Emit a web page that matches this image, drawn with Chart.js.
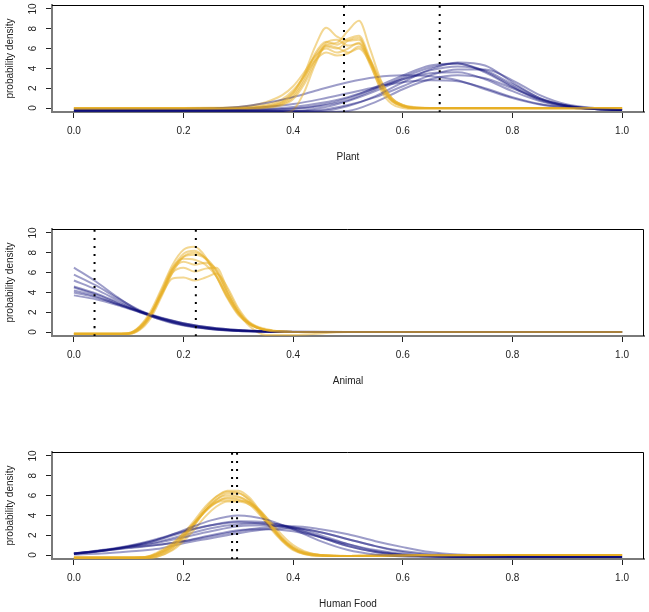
<!DOCTYPE html>
<html>
<head>
<meta charset="utf-8">
<title>Diet density curves</title>
<script src="https://cdn.jsdelivr.net/npm/chart.js@4"></script>
<style>
  body { margin: 0; background: #fff; }
  #wrap { position: relative; width: 649px; height: 612px; }
  canvas { position: absolute; left: 0; }
</style>
</head>
<body>
<div id="wrap">
  <canvas id="plant" width="649" height="170" style="top:0px"></canvas>
  <canvas id="animal" width="649" height="170" style="top:224px"></canvas>
  <canvas id="human" width="649" height="170" style="top:447px"></canvas>
</div>
<script>
const xTicks = [0, 0.2, 0.4, 0.6, 0.8, 1.0]
const yTicks = [0, 2, 4, 6, 8, 10]
const yTitle = 'probability density'

// Plant
const plantLines = [0.4927, 0.6673]
const plantYellowX = [0, 0.1, 0.2, 0.25, 0.3, 0.35, 0.38, 0.4, 0.42, 0.44, 0.46, 0.48, 0.5, 0.52, 0.54, 0.56, 0.58, 0.6, 0.62, 0.65, 0.7, 0.8, 0.9, 1.0]
const plantYellow = [
  [-0.05, -0.05, -0.05, -0.05, 0, 0.15, 0.6, 1.5, 3.4, 6.2, 8.1, 7.2, 6.8, 6.9, 4.8, 2.2, 0.7, 0.15, 0, 0, 0, 0, 0, 0],
  [-0.1, -0.1, -0.1, -0.1, -0.1, 0, 0.3, 0.9, 2.4, 4.6, 6.4, 6.6, 7.8, 8.8, 6.0, 2.8, 1.0, 0.3, 0.05, 0, 0, 0, 0, 0],
  [-0.6, -0.6, -0.6, -0.6, -0.6, -0.6, -0.5, -0.2, 1.6, 4.4, 6.2, 6.0, 6.8, 7.1, 4.6, 1.8, 0.4, 0, -0.1, -0.1, -0.1, -0.1, -0.1, -0.1],
  [0, 0, 0, 0.02, 0.1, 0.6, 1.3, 2.2, 3.6, 5.2, 6.0, 5.6, 6.0, 6.6, 4.8, 2.4, 0.9, 0.3, 0.1, 0, 0, 0, 0, 0],
  [0, 0, 0, 0, 0.05, 0.35, 0.9, 1.8, 3.2, 4.8, 5.6, 5.3, 5.5, 6.2, 4.9, 2.7, 1.0, 0.3, 0.05, 0, 0, 0, 0, 0],
  [-0.05, -0.05, -0.05, -0.05, -0.05, 0.1, 0.5, 1.3, 3.0, 5.5, 6.7, 6.4, 7.0, 7.3, 5.0, 2.3, 0.8, 0.2, 0, 0, 0, 0, 0, 0],
  [-0.05, -0.05, -0.05, -0.05, -0.05, 0.1, 0.4, 1.1, 2.7, 4.9, 6.3, 6.1, 5.6, 6.0, 4.6, 2.3, 0.8, 0.2, 0, 0, 0, 0, 0, 0],
  [0, 0, 0, 0, 0, 0.2, 0.7, 1.6, 3.3, 5.3, 6.6, 6.9, 6.3, 6.5, 4.4, 2.0, 0.7, 0.2, 0, 0, 0, 0, 0, 0]
]
const plantBlueX = [0, 0.2, 0.3, 0.35, 0.4, 0.45, 0.5, 0.55, 0.6, 0.65, 0.7, 0.75, 0.8, 0.85, 0.9, 0.95, 1.0]
const plantBlue = [
  [-0.2, -0.2, -0.2, -0.15, -0.05, 0.3, 1.0, 2.1, 3.3, 4.3, 4.5, 3.6, 2.1, 0.8, 0.15, -0.1, -0.2],
  [-0.3, -0.3, -0.3, -0.3, -0.3, -0.3, 0.2, 1.2, 2.6, 3.9, 4.6, 4.3, 2.6, 1.0, 0.2, -0.1, -0.2],
  [-0.1, -0.1, 0.1, 0.5, 1.1, 1.9, 2.6, 3.1, 3.3, 3.2, 2.8, 1.9, 1.0, 0.35, 0.05, -0.1, -0.2],
  [-0.2, -0.2, -0.1, 0.1, 0.4, 0.9, 1.5, 2.1, 2.6, 2.8, 2.7, 2.0, 1.1, 0.4, 0.05, -0.1, -0.2],
  [-0.3, -0.3, -0.3, -0.3, -0.3, 0.0, 0.7, 1.7, 2.9, 3.8, 4.2, 3.8, 2.4, 1.0, 0.25, -0.1, -0.2],
  [-0.2, -0.2, -0.2, -0.1, 0.1, 0.5, 1.1, 2.0, 2.9, 3.5, 3.6, 2.9, 1.7, 0.7, 0.15, -0.1, -0.2],
  [-0.2, -0.2, -0.2, -0.2, -0.1, 0.2, 0.8, 1.9, 3.1, 4.1, 4.5, 3.7, 2.2, 0.9, 0.2, -0.1, -0.2],
  [-0.4, -0.4, -0.4, -0.4, -0.4, -0.4, -0.3, 0.6, 1.9, 2.9, 3.3, 3.0, 2.0, 0.9, 0.25, -0.05, -0.2],
  [-0.3, -0.3, -0.3, -0.3, -0.3, -0.2, 0.3, 1.1, 2.2, 3.3, 3.9, 3.9, 2.8, 1.3, 0.35, 0, -0.2]
]

// Animal
const animalLines = [0.0376, 0.2224]
const animalYellowX = [0, 0.05, 0.08, 0.1, 0.12, 0.14, 0.16, 0.18, 0.2, 0.22, 0.24, 0.26, 0.28, 0.3, 0.32, 0.35, 0.4, 0.5, 0.6, 0.8, 1.0]
const animalYellow = [
  [-0.15, -0.15, -0.15, -0.1, 0.6, 2.1, 4.4, 6.8, 8.3, 8.6, 7.6, 5.6, 3.4, 1.7, 0.8, 0.2, 0, 0, 0, 0, 0],
  [-0.15, -0.15, -0.15, -0.15, 0.4, 1.8, 4.0, 6.4, 7.9, 8.2, 7.4, 5.6, 3.5, 1.8, 0.8, 0.2, 0, 0, 0, 0, 0],
  [-0.2, -0.2, -0.2, -0.15, 0.3, 1.6, 3.8, 6.2, 7.6, 7.8, 7.4, 6.0, 3.8, 2.0, 0.9, 0.2, 0, 0, 0, 0, 0],
  [-0.2, -0.2, -0.2, -0.15, 0.4, 1.8, 4.0, 6.3, 7.1, 6.8, 7.0, 6.3, 4.0, 2.0, 0.9, 0.2, 0, 0, 0, 0, 0],
  [-0.2, -0.2, -0.2, -0.2, 0.3, 1.7, 3.9, 6.0, 6.5, 6.1, 6.4, 6.5, 4.3, 2.2, 0.9, 0.2, 0, 0, 0, 0, 0],
  [-0.15, -0.15, -0.15, -0.1, 0.5, 1.8, 3.8, 5.4, 5.5, 5.2, 5.5, 5.9, 4.5, 2.4, 1.0, 0.3, 0, 0, 0, 0, 0],
  [-0.2, -0.2, -0.2, -0.15, 0.5, 1.9, 4.2, 6.5, 7.4, 7.3, 6.8, 5.6, 3.6, 1.9, 0.8, 0.2, 0, 0, 0, 0, 0],
  [-0.2, -0.2, -0.2, -0.2, 0.2, 1.4, 3.6, 6.0, 7.6, 8.0, 7.5, 6.2, 4.0, 2.0, 0.6, -0.3, -0.3, 0, 0, 0, 0]
]
const animalBlueX = [0, 0.04, 0.08, 0.12, 0.16, 0.2, 0.25, 0.3, 0.35, 0.4, 0.5, 0.6, 0.8, 1.0]
const animalBlue = [
  [6.5, 5.1, 3.5, 2.1, 1.2, 0.65, 0.28, 0.1, 0.03, 0, 0, 0, 0, 0],
  [5.8, 4.7, 3.4, 2.2, 1.3, 0.7, 0.3, 0.12, 0.04, 0, 0, 0, 0, 0],
  [5.2, 4.3, 3.2, 2.1, 1.3, 0.75, 0.35, 0.15, 0.05, 0.01, 0, 0, 0, 0],
  [4.6, 3.9, 3.0, 2.1, 1.35, 0.8, 0.35, 0.15, 0.05, 0.01, 0, 0, 0, 0],
  [4.5, 3.8, 2.9, 2.0, 1.25, 0.7, 0.3, 0.1, 0.03, 0, 0, 0, 0, 0],
  [4.2, 3.6, 2.8, 2.05, 1.4, 0.85, 0.4, 0.15, 0.05, 0.01, 0, 0, 0, 0],
  [4.0, 3.5, 2.8, 2.1, 1.45, 0.9, 0.45, 0.2, 0.07, 0.02, 0, 0, 0, 0],
  [3.7, 3.3, 2.7, 2.0, 1.4, 0.9, 0.45, 0.2, 0.08, 0.02, 0, 0, 0, 0]
]

// Human Food
const humanLines = [0.2885, 0.2976]
const humanYellowX = [0, 0.05, 0.1, 0.13, 0.15, 0.18, 0.2, 0.22, 0.24, 0.26, 0.28, 0.3, 0.32, 0.34, 0.36, 0.38, 0.4, 0.42, 0.45, 0.5, 0.6, 0.8, 1.0]
const humanYellow = [
  [-0.25, -0.25, -0.25, -0.2, 0.1, 1.0, 2.0, 3.3, 4.7, 5.9, 6.5, 6.5, 5.8, 4.4, 2.9, 1.6, 0.7, 0.2, -0.05, -0.1, -0.05, 0, 0],
  [-0.25, -0.25, -0.25, -0.25, 0, 0.8, 1.8, 3.1, 4.5, 5.6, 6.2, 6.2, 5.6, 4.3, 2.9, 1.6, 0.7, 0.2, 0, -0.1, -0.05, 0, 0],
  [-0.25, -0.25, -0.25, -0.2, 0.2, 1.2, 2.2, 3.3, 4.4, 5.3, 5.8, 5.8, 5.3, 4.3, 3.0, 1.7, 0.8, 0.3, 0, -0.1, -0.05, 0, 0],
  [-0.25, -0.25, -0.25, -0.25, -0.1, 0.8, 1.9, 3.2, 4.5, 5.3, 5.5, 5.5, 5.3, 4.5, 3.1, 1.7, 0.7, 0.2, 0, -0.1, -0.05, 0, 0],
  [-0.3, -0.3, -0.3, -0.3, -0.2, 0.6, 1.6, 3.0, 4.5, 5.6, 6.0, 5.9, 5.3, 4.2, 2.8, 1.5, 0.6, 0.1, -0.1, -0.1, -0.05, 0, 0],
  [-0.3, -0.3, -0.3, -0.3, -0.2, 0.5, 1.4, 2.6, 3.9, 4.9, 5.4, 5.4, 5.1, 4.4, 3.3, 2.0, 1.0, 0.4, 0, -0.1, -0.05, 0, 0],
  [-0.25, -0.25, -0.25, -0.2, 0.1, 1.1, 2.2, 3.5, 4.9, 5.9, 6.4, 6.3, 5.5, 4.1, 2.6, 1.4, 0.5, 0.1, -0.1, -0.1, -0.05, 0, 0],
  [-0.3, -0.3, -0.3, -0.25, 0, 0.9, 1.9, 3.2, 4.5, 5.4, 5.7, 5.6, 5.1, 4.0, 2.7, 1.5, 0.6, 0.15, -0.05, -0.1, -0.05, 0, 0]
]
const humanBlueX = [0, 0.05, 0.1, 0.15, 0.2, 0.25, 0.3, 0.35, 0.4, 0.45, 0.5, 0.55, 0.6, 0.65, 0.7, 0.8, 0.9, 1.0]
const humanBlue = [
  [0.15, 0.45, 0.85, 1.5, 2.5, 3.5, 4.0, 3.6, 2.6, 1.4, 0.5, 0.05, -0.15, -0.2, -0.2, -0.2, -0.2, -0.2],
  [0.15, 0.5, 0.95, 1.6, 2.4, 3.0, 3.3, 3.1, 2.6, 1.8, 0.9, 0.3, 0, -0.15, -0.2, -0.2, -0.2, -0.2],
  [0.1, 0.4, 0.8, 1.2, 1.8, 2.4, 2.9, 3.0, 2.8, 2.3, 1.6, 0.9, 0.4, 0.1, -0.05, -0.15, -0.2, -0.2],
  [0.15, 0.4, 0.75, 1.0, 1.4, 1.9, 2.4, 2.8, 2.9, 2.6, 2.1, 1.4, 0.8, 0.3, 0.05, -0.1, -0.2, -0.2],
  [0.1, 0.4, 0.7, 1.0, 1.4, 2.0, 2.5, 2.6, 2.4, 1.8, 1.1, 0.5, 0.1, -0.1, -0.2, -0.2, -0.2, -0.2],
  [0.15, 0.45, 0.9, 1.5, 2.3, 3.0, 3.4, 3.3, 2.7, 1.8, 0.9, 0.3, 0, -0.15, -0.2, -0.2, -0.2, -0.2],
  [0.15, 0.45, 0.85, 1.3, 2.0, 2.7, 3.1, 3.2, 2.8, 2.0, 1.1, 0.4, 0.05, -0.1, -0.2, -0.2, -0.2, -0.2],
  [0.05, 0.15, 0.35, 0.6, 1.2, 1.7, 2.2, 2.6, 2.7, 2.3, 1.6, 0.9, 0.3, 0, -0.15, -0.2, -0.2, -0.2]
]

const gold = 'rgba(232, 176, 37, 0.5)'
const navy = 'rgba(10, 10, 120, 0.4)'
const font = { family: '"Liberation Sans", Arial, Helvetica, sans-serif', size: 10 }

const toPoints = (xs, ys) => xs.map((x, i) => ({ x, y: ys[i] }))

const frame = {
  id: 'frame',
  afterDraw(chart) {
    const { ctx, chartArea: a } = chart
    ctx.save()
    ctx.strokeStyle = '#000'
    ctx.lineWidth = 1
    ctx.beginPath()
    ctx.moveTo(a.left, a.top + 0.5)
    ctx.lineTo(a.right - 0.5, a.top + 0.5)
    ctx.lineTo(a.right - 0.5, a.bottom)
    ctx.stroke()
    ctx.restore()
  }
}

function makePanel(id, label, lines, yx, yellow, bx, blue) {
  const datasets = []
  lines.forEach(v => datasets.push({
    data: [{ x: v, y: -0.4 }, { x: v, y: 10.4 }],
    borderColor: '#000', borderWidth: 2, borderDash: [2, 6], order: 0
  }))
  // yellow and blue curves alternate so overlaps mix like the original
  yellow.forEach((ys, i) => datasets.push({ data: toPoints(yx, ys), borderColor: gold, order: 2 * i + 1 }))
  blue.forEach((ys, i) => datasets.push({ data: toPoints(bx, ys), borderColor: navy, order: 2 * i + 2 }))

  return new Chart(document.getElementById(id), {
    type: 'line',
    data: { datasets },
    plugins: [frame],
    options: {
      responsive: false,
      animation: false,
      devicePixelRatio: 1,
      layout: { padding: { left: 0, right: 5, top: 5, bottom: 0 } },
      plugins: { legend: { display: false }, tooltip: { enabled: false } },
      elements: {
        point: { radius: 0 },
        line: { borderWidth: 2, cubicInterpolationMode: 'monotone', fill: false }
      },
      scales: {
        x: {
          type: 'linear',
          min: -0.04,
          max: 1.04,
          afterBuildTicks: s => { s.ticks = xTicks.map(v => ({ value: v })) },
          afterFit: s => { s.height = 58; s.paddingLeft = 0; s.paddingRight = 0 },
          border: { color: '#7a7a7a', width: 2 },
          grid: { drawOnChartArea: false, tickLength: 6, tickColor: '#222' },
          ticks: { font, color: '#222', padding: 7, maxRotation: 0, autoSkip: false, callback: v => v.toFixed(1) },
          title: { display: true, text: label, font, color: '#222', padding: { bottom: 7, top: 0 } }
        },
        y: {
          type: 'linear',
          min: -0.4,
          max: 10.4,
          afterBuildTicks: s => { s.ticks = yTicks.map(v => ({ value: v })) },
          afterFit: s => { s.width = 52; s.paddingTop = 0; s.paddingBottom = 0 },
          border: { color: '#7a7a7a', width: 2 },
          grid: { drawOnChartArea: false, tickLength: 6, tickColor: '#222' },
          ticks: { font, color: '#222', padding: 7, minRotation: 90, maxRotation: 90, crossAlign: 'center', callback: v => String(v) },
          title: { display: true, text: yTitle, font, color: '#222', padding: { top: 4, bottom: 0 } }
        }
      }
    }
  })
}

makePanel('plant', 'Plant', plantLines, plantYellowX, plantYellow, plantBlueX, plantBlue)
makePanel('animal', 'Animal', animalLines, animalYellowX, animalYellow, animalBlueX, animalBlue)
makePanel('human', 'Human Food', humanLines, humanYellowX, humanYellow, humanBlueX, humanBlue)
</script>
</body>
</html>
